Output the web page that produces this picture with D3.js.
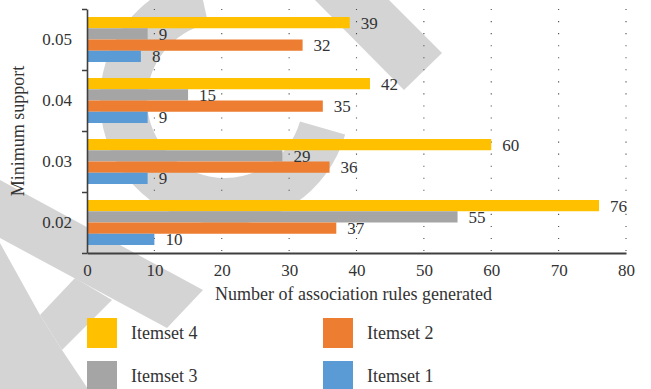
<!DOCTYPE html>
<html>
<head>
<meta charset="utf-8">
<script src="https://cdn.jsdelivr.net/npm/d3@7"></script>
<style>
  html, body { margin: 0; padding: 0; background: #fff; }
  svg { display: block; font-family: "Liberation Serif", "Times New Roman", serif; }
</style>
</head>
<body>
<svg id="chart" width="651" height="389"></svg>
<script>
// Minimum support levels (top to bottom) and the itemset series
const supports = ["0.05", "0.04", "0.03", "0.02"];
const itemsets = ["Itemset 4", "Itemset 3", "Itemset 2", "Itemset 1"];
const itemset4 = [39, 42, 60, 76];
const itemset3 = [9, 15, 29, 55];
const itemset2 = [32, 35, 36, 37];
const itemset1 = [8, 9, 9, 10];
const xTicks = [0, 10, 20, 30, 40, 50, 60, 70, 80];
const palette = ["#FFC000", "#A5A5A5", "#ED7D31", "#5B9BD5"];

const seriesValues = [itemset4, itemset3, itemset2, itemset1];
const rows = supports.map((s, i) => ({
  support: s,
  values: itemsets.map((name, k) => ({ name, value: seriesValues[k][i] }))
}));

const svg = d3.select("#chart");
const axisColor = "#3f3f3f";
const textColor = "#333";

const x = d3.scaleLinear().domain([0, 80]).range([87, 626]);
const y = d3.scaleBand().domain(supports).range([9, 253]).padding(0);
const inner = d3.scaleBand().domain(itemsets).range([0, y.bandwidth()])
  .paddingInner(0).paddingOuter(0.71);
const color = d3.scaleOrdinal().domain(itemsets).range(palette);

// Light grey backdrop emblem drawn beneath the plot
const shade = "#d4d4d4";
const backdrop = svg.append("g");
backdrop.append("path")
  .attr("transform", "translate(225,100)")
  .attr("d", d3.arc()({ innerRadius: 78, outerRadius: 125, startAngle: 1.85, endAngle: 2 * Math.PI - 0.217 }))
  .attr("fill", shade);
const emblemPolys = [
  [[312, -3], [386, -3], [442, 53], [404, 90]],
  [[-2, 179], [203, 290], [167, 328], [-2, 237]],
  [[75, 278], [112, 300], [62, 350], [40, 315]],
  [[-2, 237], [0, 243], [40, 315], [62, 350], [90, 392], [-2, 392]]
];
backdrop.selectAll("polygon").data(emblemPolys).join("polygon")
  .attr("points", d => d.map(p => p.join(",")).join(" "))
  .attr("fill", shade);

// Dotted vertical gridlines
svg.append("g").selectAll("line").data(xTicks.filter(t => t > 0)).join("line")
  .attr("x1", d => x(d)).attr("x2", d => x(d))
  .attr("y1", y.range()[0]).attr("y2", y.range()[1])
  .attr("stroke", "#4a4a4a").attr("stroke-width", 1.1)
  .attr("stroke-dasharray", "1.1 10.95");

// Bars
const groups = svg.append("g").selectAll("g").data(rows).join("g")
  .attr("transform", d => `translate(0,${y(d.support)})`);
groups.selectAll("rect").data(d => d.values).join("rect")
  .attr("x", x(0))
  .attr("y", d => inner(d.name))
  .attr("width", d => x(d.value) - x(0))
  .attr("height", inner.bandwidth())
  .attr("fill", d => color(d.name));

// Value labels
groups.selectAll("text").data(d => d.values).join("text")
  .attr("x", d => x(d.value) + 11)
  .attr("y", d => inner(d.name) + inner.bandwidth() / 2)
  .attr("dy", "0.35em")
  .attr("font-size", 17)
  .attr("fill", textColor)
  .text(d => d.value);

// X axis
const xAxis = svg.append("g")
  .attr("transform", `translate(0,${y.range()[1]})`)
  .call(d3.axisBottom(x).tickValues(xTicks).tickSize(0).tickPadding(11));
xAxis.select(".domain").attr("stroke", axisColor).attr("stroke-width", 1.8);
xAxis.selectAll("text").attr("font-size", 17).attr("fill", textColor)
  .attr("font-family", "Liberation Serif, serif");

// Y axis: category labels at band centres
const yAxis = svg.append("g")
  .attr("transform", `translate(${x(0)},0)`)
  .call(d3.axisLeft(y).tickSize(0).tickPadding(15));
yAxis.select(".domain").attr("stroke", axisColor).attr("stroke-width", 1.6);
yAxis.selectAll("text").attr("font-size", 17).attr("fill", textColor)
  .attr("font-family", "Liberation Serif, serif");

// Y axis: tick marks at band boundaries
const boundary = d3.scaleLinear().domain([0, supports.length]).range(y.range());
const yTicks = svg.append("g")
  .attr("transform", `translate(${x(0)},0)`)
  .call(d3.axisLeft(boundary).ticks(supports.length).tickSize(5).tickFormat(""));
yTicks.select(".domain").remove();
yTicks.selectAll("line").attr("stroke", axisColor).attr("stroke-width", 1.5);

// Axis titles
svg.append("text")
  .attr("x", (x.range()[0] + x.range()[1]) / 2 - 3)
  .attr("y", 300)
  .attr("text-anchor", "middle")
  .attr("font-size", 18)
  .attr("fill", textColor)
  .text("Number of association rules generated");

svg.append("text")
  .attr("transform", `translate(24,${(y.range()[0] + y.range()[1]) / 2}) rotate(-90)`)
  .attr("text-anchor", "middle")
  .attr("font-size", 18)
  .attr("fill", textColor)
  .text("Minimum support");

// Legend: two columns, two rows
const legendItems = [
  { name: "Itemset 4", col: 0, row: 0 },
  { name: "Itemset 3", col: 0, row: 1 },
  { name: "Itemset 2", col: 1, row: 0 },
  { name: "Itemset 1", col: 1, row: 1 }
];
const legend = svg.append("g").selectAll("g").data(legendItems).join("g")
  .attr("transform", d => `translate(${87 + d.col * 236},${318 + d.row * 43})`);
legend.append("rect")
  .attr("width", 30).attr("height", 30)
  .attr("fill", d => color(d.name));
legend.append("text")
  .attr("x", 44).attr("y", 15).attr("dy", "0.35em")
  .attr("font-size", 18)
  .attr("fill", textColor)
  .text(d => d.name);
</script>
</body>
</html>
